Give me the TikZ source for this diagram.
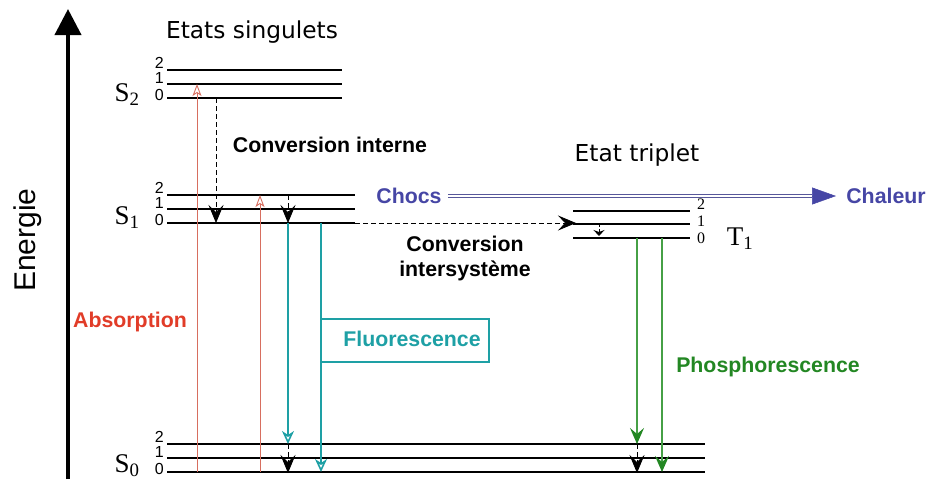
\documentclass[tikz,border=0pt]{standalone}
\usepackage{fontspec}
\setmainfont{Liberation Serif}
\setsansfont{Liberation Sans}
\newfontfamily\dejavu{DejaVu Sans}
\usetikzlibrary{arrows.meta}
\definecolor{absred}{RGB}{225,60,40}
\definecolor{abslin}{RGB}{215,110,95}
\definecolor{fluo}{RGB}{30,160,165}
\definecolor{phos}{RGB}{35,135,35}
\definecolor{phoslin}{RGB}{70,160,70}
\definecolor{chocb}{RGB}{70,70,165}
\tikzset{
  level/.style={line width=1.1pt, black},
  num/.style={font=\sffamily\fontsize{16}{16}\selectfont, inner sep=0pt, anchor=east},
  tnum/.style={font=\fontsize{16}{16}\selectfont, inner sep=0pt, anchor=west},
  slab/.style={font=\fontsize{27}{27}\selectfont, inner sep=0pt},
  bold lab/.style={font=\sffamily\bfseries\fontsize{21.3}{25}\selectfont, inner sep=0pt},
  title lab/.style={font=\dejavu\fontsize{23.3}{25}\selectfont, inner sep=0pt},
  dash arrow/.style={dashed, dash pattern=on 5pt off 3pt, line width=0.8pt, -{Stealth[length=18pt,width=15pt,inset=7pt]}},
  abs arrow/.style={abslin, line width=0.9pt, -{Stealth[open,length=12pt,width=9pt,inset=3pt]}},
  fluo arrow/.style={fluo, line width=1.6pt, -{Stealth[open,length=13pt,width=12pt,inset=4pt]}},
  phos arrow/.style={phoslin, line width=1.1pt, -{Stealth[phos,length=16pt,width=14pt,inset=6pt]}},
}
\begin{document}
\begin{tikzpicture}[x=1pt,y=-1pt]
\useasboundingbox (0,0) rectangle (929,491);
% energy axis
\coordinate (eb) at (68,479);
\coordinate (et) at (68,9);
\draw[line width=4pt, -{Triangle[length=26pt,width=26pt]}] (eb) -- (et);
\node[rotate=90, font=\sffamily\fontsize{30}{30}\selectfont, inner sep=0pt] (energie) at (28,240) {Energie};
% titles
\node[title lab] (sing) at (252,32) {Etats singulets};
\node[title lab] (trip) at (637,155) {Etat triplet};
% S2 levels
\draw[level] (167,70) -- (342,70);
\draw[level] (167,84) -- (342,84);
\draw[level] (167,98) -- (342,98);
\node[num] (s22) at (164,63) {2};
\node[num] (s21) at (164,78) {1};
\node[num] (s20) at (164,95) {0};
\node[slab] (S2) at (127,95) {S\textsubscript{2}};
% S1 levels
\draw[level] (167,195) -- (355,195);
\draw[level] (167,209) -- (355,209);
\draw[level] (167,223) -- (355,223);
\node[num] (s12) at (164,188) {2};
\node[num] (s11) at (164,203) {1};
\node[num] (s10) at (164,220) {0};
\node[slab] (S1) at (127,218) {S\textsubscript{1}};
% S0 levels
\draw[level] (167,444) -- (705,444);
\draw[level] (167,458) -- (705,458);
\draw[level] (167,472) -- (705,472);
\node[num] (s02) at (164,437) {2};
\node[num] (s01) at (164,452) {1};
\node[num] (s00) at (164,469) {0};
\node[slab] (S0) at (127,466) {S\textsubscript{0}};
% T1 levels
\draw[level] (573,211) -- (690,211);
\draw[level] (573,224) -- (690,224);
\draw[level] (573,238) -- (690,238);
\node[tnum] (t2) at (697,204) {2};
\node[tnum] (t1) at (697,221) {1};
\node[tnum] (t0) at (697,238) {0};
\node[slab] (T1) at (740,239) {T\textsubscript{1}};
% labels
\node[bold lab] (ci) at (330,145) {Conversion interne};
\node[bold lab, align=center] (cis) at (465,258) {Conversion\\intersystème};
\node[bold lab, absred] (absl) at (130,322) {Absorption};
\node[bold lab, phos] (phosl) at (768,367) {Phosphorescence};
\node[bold lab, chocb] (chocs) at (409,196) {Chocs};
\node[bold lab, chocb] (chaleur) at (886,196) {Chaleur};
\node[draw=fluo, line width=1.3pt, minimum width=168pt, minimum height=43pt, inner sep=0pt] (fbox) at (405,340.5) {};
\node[bold lab, fluo] (fluol) at (412,339) {Fluorescence};
% chocs -> chaleur
\coordinate (cs) at (448,196);
\coordinate (ce) at (812,196);
\coordinate (ct) at (836,196);
\draw[chocb!70!gray, line width=0.8pt, double=white, double distance=1.6pt] (cs) -- (ce);
\draw[chocb, line width=0.5pt, -{Triangle[length=24pt,width=17pt]}] (ce) -- (ct);
% absorption
\coordinate (a1s) at (197,472); \coordinate (a1e) at (197,84);
\coordinate (a2s) at (260,472); \coordinate (a2e) at (260,195);
\draw[abs arrow] (a1s) -- (a1e);
\draw[abs arrow] (a2s) -- (a2e);
% internal conversion
\coordinate (ic1s) at (216,98); \coordinate (ic1e) at (216,223);
\draw[dash arrow] (ic1s) -- (ic1e);
\coordinate (ic2s) at (288,195); \coordinate (ic2e) at (288,223);
\draw[dash arrow] (ic2s) -- (ic2e);
% intersystem crossing
\coordinate (isc1) at (355,223); \coordinate (isc2) at (576,223);
\draw[dash arrow] (isc1) -- (isc2);
\coordinate (tv1) at (599,224); \coordinate (tv2) at (599,236);
\draw[dashed, dash pattern=on 3pt off 2pt, line width=0.8pt, -{Stealth[length=6pt,width=11pt,inset=2pt]}] (tv1) -- (tv2);
% fluorescence
\coordinate (f1s) at (288,223); \coordinate (f1e) at (288,444);
\coordinate (f2s) at (321,223); \coordinate (f2e) at (321,472);
\draw[fluo arrow] (f1s) -- (f1e);
\draw[fluo arrow] (f2s) -- (f2e);
\coordinate (fv1) at (288,444); \coordinate (fv2) at (288,473);
\draw[dash arrow] (fv1) -- (fv2);
% phosphorescence
\coordinate (p1s) at (637,238); \coordinate (p1e) at (637,444);
\coordinate (p2s) at (662,238); \coordinate (p2e) at (662,472);
\draw[phos arrow] (p1s) -- (p1e);
\draw[phos arrow] (p2s) -- (p2e);
\coordinate (pv1) at (637,444); \coordinate (pv2) at (637,473);
\draw[dash arrow] (pv1) -- (pv2);
\end{tikzpicture}
\end{document}
